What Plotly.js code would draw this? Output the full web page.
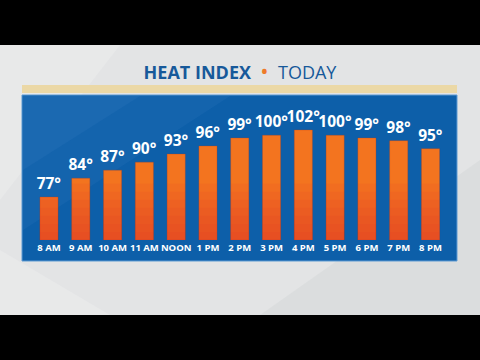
<!DOCTYPE html>
<html>
<head>
<meta charset="utf-8">
<script src="https://cdn.plot.ly/plotly-3.0.1.min.js"></script>
<style>html,body{margin:0;padding:0;background:#000;}#chart{width:480px;height:360px;}</style>
</head>
<body>
<div id="chart"></div>
<script>
const hours = ["8 AM","9 AM","10 AM","11 AM","NOON","1 PM","2 PM","3 PM","4 PM","5 PM","6 PM","7 PM","8 PM"];
const heatIndex = [77,84,87,90,93,96,99,100,102,100,99,98,95];
const titleMain = "HEAT INDEX";
const titleSub = "TODAY";

const W = 480, H = 360;
const px = v => v / W;
const py = v => 1 - v / H;
const BASE = 61;

const FONT = "'Open Sans', 'DejaVu Sans', sans-serif";

const traces = [];
traces.push({
  type: 'bar', x: hours, y: heatIndex.map(v => v - BASE), base: BASE,
  marker: {color: '#f3741f', line: {color: 'rgba(190,60,20,0.5)', width: 0.6}},
  text: heatIndex.map(v => v + '°'), textposition: 'outside',
  textfont: {color: '#ffffff', size: 15.5, family: FONT, weight: 700},
  constraintext: 'none', cliponaxis: false, hoverinfo: 'skip', width: 0.57
});
[3, 6, 9, 12, 15, 18, 21].forEach(k => {
  traces.push({
    type: 'bar', x: hours, y: heatIndex.map(v => Math.min(v - BASE, k)), base: BASE,
    marker: {color: 'rgba(220,45,40,0.09)'}, hoverinfo: 'skip', width: 0.57,
    showlegend: false
  });
});

const shapes = [
  {type: 'path', xref: 'paper', yref: 'paper', path: `M 0 ${py(45)} L ${px(120)} ${py(45)} L 0 ${py(200)} Z`, fillcolor: 'rgba(255,255,255,0.18)', line: {width: 0}, layer: 'below'},
  {type: 'path', xref: 'paper', yref: 'paper', path: `M ${px(260)} ${py(315)} L ${px(480)} ${py(160)} L ${px(480)} ${py(315)} Z`, fillcolor: 'rgba(160,165,170,0.10)', line: {width: 0}, layer: 'below'},
  {type: 'path', xref: 'paper', yref: 'paper', path: `M 0 ${py(250)} L ${px(110)} ${py(315)} L 0 ${py(315)} Z`, fillcolor: 'rgba(255,255,255,0.18)', line: {width: 0}, layer: 'below'},
  {type: 'rect', xref: 'paper', yref: 'paper', x0: px(22), x1: px(457), y0: py(93), y1: py(85), fillcolor: '#ebd8a6', line: {width: 0}, layer: 'below'},
  {type: 'rect', xref: 'paper', yref: 'paper', x0: px(22), x1: px(457), y0: py(261), y1: py(95), fillcolor: '#0d5fa9', line: {color: '#5e9bd3', width: 1}, layer: 'below'},
  {type: 'path', xref: 'paper', yref: 'paper', path: `M ${px(23)} ${py(96)} L ${px(230)} ${py(96)} L ${px(23)} ${py(230)} Z`, fillcolor: 'rgba(120,170,225,0.08)', line: {width: 0}, layer: 'below'},
  {type: 'path', xref: 'paper', yref: 'paper', path: `M ${px(23)} ${py(96)} L ${px(140)} ${py(96)} L ${px(23)} ${py(170)} Z`, fillcolor: 'rgba(120,170,225,0.08)', line: {width: 0}, layer: 'below'},
  {type: 'rect', xref: 'paper', yref: 'paper', x0: 0, x1: 1, y0: py(45), y1: 1, fillcolor: '#000000', line: {width: 0}},
  {type: 'rect', xref: 'paper', yref: 'paper', x0: 0, x1: 1, y0: 0, y1: py(315), fillcolor: '#000000', line: {width: 0}}
];

const layout = {
  width: W, height: H,
  margin: {l: 0, r: 0, t: 0, b: 0},
  paper_bgcolor: '#e3e4e5', plot_bgcolor: 'rgba(0,0,0,0)',
  showlegend: false, barmode: 'overlay',
  title: {
    text: `<b>${titleMain}</b>  <span style="color:#ee7a2a;font-size:22px">•</span>  ${titleSub}`,
    font: {family: FONT, size: 18, color: '#17599a'},
    x: 0.5, xanchor: 'center', xref: 'paper',
    y: py(73), yanchor: 'middle', yref: 'paper'
  },
  xaxis: {
    domain: [px(33.1), px(446.4)], type: 'category',
    showgrid: false, zeroline: false, showline: false, ticks: '',
    tickangle: 0,
    tickfont: {color: '#ffffff', size: 9.5, family: FONT, weight: 700},
    fixedrange: true
  },
  yaxis: {
    domain: [py(240), py(95)], range: [BASE, 115],
    visible: false, showgrid: false, zeroline: false, fixedrange: true
  },
  shapes: shapes
};

Plotly.newPlot('chart', traces, layout, {displayModeBar: false, staticPlot: true});
</script>
</body>
</html>
